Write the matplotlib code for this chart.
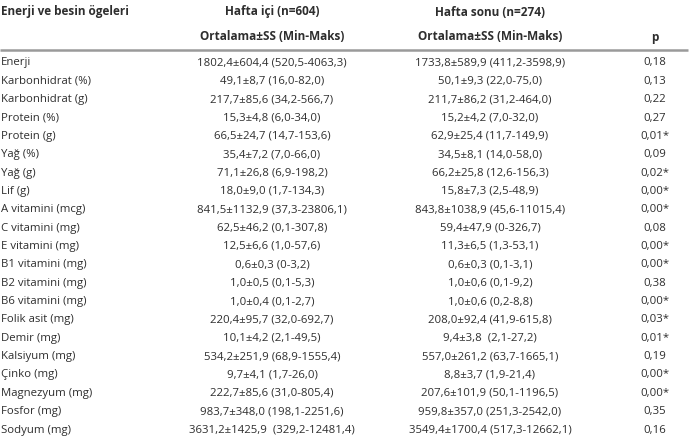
import matplotlib.pyplot as plt

labels = ["Enerji", "Karbonhidrat (%)", "Karbonhidrat (g)", "Protein (%)", "Protein (g)",
          "Yağ (%)", "Yağ (g)", "Lif (g)", "A vitamini (mcg)", "C vitamini (mg)",
          "E vitamini (mg)", "B1 vitamini (mg)", "B2 vitamini (mg)", "B6 vitamini (mg)",
          "Folik asit (mg)", "Demir (mg)", "Kalsiyum (mg)", "Çinko (mg)",
          "Magnezyum (mg)", "Fosfor (mg)", "Sodyum (mg)"]
hafta_ici = ["1802,4±604,4 (520,5-4063,3)", "49,1±8,7 (16,0-82,0)", "217,7±85,6 (34,2-566,7)",
             "15,3±4,8 (6,0-34,0)", "66,5±24,7 (14,7-153,6)", "35,4±7,2 (7,0-66,0)",
             "71,1±26,8 (6,9-198,2)", "18,0±9,0 (1,7-134,3)", "841,5±1132,9 (37,3-23806,1)",
             "62,5±46,2 (0,1-307,8)", "12,5±6,6 (1,0-57,6)", "0,6±0,3 (0-3,2)",
             "1,0±0,5 (0,1-5,3)", "1,0±0,4 (0,1-2,7)", "220,4±95,7 (32,0-692,7)",
             "10,1±4,2 (2,1-49,5)", "534,2±251,9 (68,9-1555,4)", "9,7±4,1 (1,7-26,0)",
             "222,7±85,6 (31,0-805,4)", "983,7±348,0 (198,1-2251,6)",
             "3631,2±1425,9  (329,2-12481,4)"]
hafta_sonu = ["1733,8±589,9 (411,2-3598,9)", "50,1±9,3 (22,0-75,0)", "211,7±86,2 (31,2-464,0)",
              "15,2±4,2 (7,0-32,0)", "62,9±25,4 (11,7-149,9)", "34,5±8,1 (14,0-58,0)",
              "66,2±25,8 (12,6-156,3)", "15,8±7,3 (2,5-48,9)", "843,8±1038,9 (45,6-11015,4)",
              "59,4±47,9 (0-326,7)", "11,3±6,5 (1,3-53,1)", "0,6±0,3 (0,1-3,1)",
              "1,0±0,6 (0,1-9,2)", "1,0±0,6 (0,2-8,8)", "208,0±92,4 (41,9-615,8)",
              "9,4±3,8  (2,1-27,2)", "557,0±261,2 (63,7-1665,1)", "8,8±3,7 (1,9-21,4)",
              "207,6±101,9 (50,1-1196,5)", "959,8±357,0 (251,3-2542,0)",
              "3549,4±1700,4 (517,3-12662,1)"]
p_values = ["0,18", "0,13", "0,22", "0,27", "0,01*", "0,09", "0,02*", "0,00*", "0,00*",
            "0,08", "0,00*", "0,00*", "0,38", "0,00*", "0,03*", "0,01*", "0,19", "0,00*",
            "0,00*", "0,35", "0,16"]

plt.rcParams['font.family'] = ['Open Sans', 'DejaVu Sans']
txt = '#2e2e2e'
fs = 8.2
hfs = 8.5

fig = plt.figure(figsize=(6.93, 4.42), dpi=100)
ax = fig.add_axes([0, 0, 1, 1])
ax.set_xlim(0, 693)
ax.set_ylim(442, 0)
ax.axis('off')

x_lab, x_ici, x_sonu, x_p = 1, 272, 490, 655

# header
ax.text(x_lab, 12, "Enerji ve besin ögeleri", fontsize=hfs, fontweight='bold', color=txt, va='center')
ax.text(x_ici, 12, "Hafta içi (n=604)", fontsize=hfs, fontweight='bold', color=txt, va='center', ha='center')
ax.text(x_sonu, 12, "Hafta sonu (n=274)", fontsize=hfs, fontweight='bold', color=txt, va='center', ha='center')
ax.text(x_ici, 37, "Ortalama±SS (Min-Maks)", fontsize=hfs, fontweight='bold', color=txt, va='center', ha='center')
ax.text(x_sonu, 37, "Ortalama±SS (Min-Maks)", fontsize=hfs, fontweight='bold', color=txt, va='center', ha='center')
ax.text(x_p, 38, "p", fontsize=hfs, fontweight='bold', color=txt, va='center', ha='center')
ax.plot([0, 688], [49.5, 49.5], color='#9a9a9a', lw=1.8, solid_capstyle='butt')

y0, dy = 63, 18.35
for i, lab in enumerate(labels):
    y = y0 + i * dy
    ax.text(x_lab, y, lab, fontsize=fs, color=txt, va='center')
    ax.text(x_ici, y, hafta_ici[i], fontsize=fs, color=txt, va='center', ha='center')
    ax.text(x_sonu, y, hafta_sonu[i], fontsize=fs, color=txt, va='center', ha='center')
    ax.text(x_p, y, p_values[i], fontsize=fs, color=txt, va='center', ha='center')

fig.savefig('out.png', dpi=100, facecolor='white')
